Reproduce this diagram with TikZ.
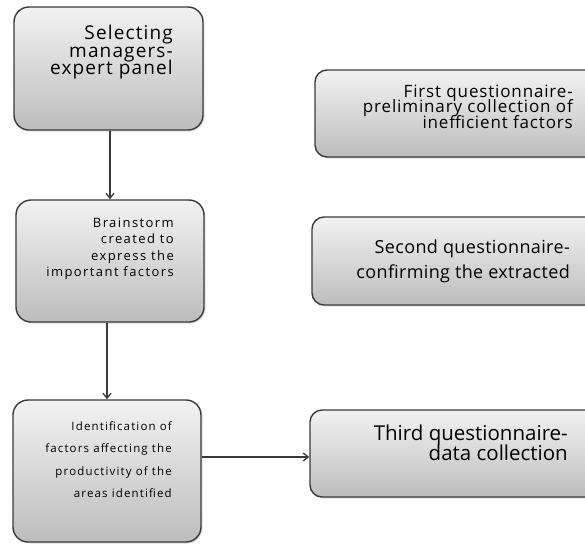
\documentclass[tikz,border=0pt]{standalone}
\usepackage{fontspec}
\setmainfont{Open Sans}
\usetikzlibrary{arrows.meta,shadows}
\definecolor{boxtop}{HTML}{F2F2F2}
\definecolor{boxbot}{HTML}{BDBDBD}
\definecolor{edge}{HTML}{3A3A3A}
\tikzset{
  stepbox/.style={draw=edge, line width=1.4pt, rounded corners=15pt,
    top color=boxtop, bottom color=boxbot, inner sep=0pt,
    drop shadow={opacity=0.25, shadow xshift=1.5pt, shadow yshift=-1.5pt}},
  qbox/.style={stepbox, rounded corners=12pt},
  txt/.style={anchor=north east, inner sep=0pt, align=right, text=black},
  arr/.style={draw=edge, line width=1.3pt, -{Straight Barb[length=5pt,width=8pt]}}
}
\newcommand{\firstrule}[1]{\rule{0pt}{#1}}
\begin{document}
\begin{tikzpicture}[x=1pt,y=-1pt]
\useasboundingbox (0,0) rectangle (585,544);
\clip (0,0) rectangle (585,544);
% boxes
\node[stepbox, minimum width=189pt, minimum height=123pt] (b1) at (108.5,68.5) {};
\node[stepbox, minimum width=188pt, minimum height=122pt] (b2) at (110,261) {};
\node[stepbox, minimum width=188pt, minimum height=142pt] (b3) at (107,471) {};
\node[qbox, minimum width=285pt, minimum height=87pt] (q1) at (457.5,113.5) {};
\node[qbox, minimum width=288pt, minimum height=88pt] (q2) at (456,261) {};
\node[qbox, minimum width=290pt, minimum height=87pt] (q3) at (455,453.5) {};
% texts
\node[txt, font={\fontsize{19}{17.5}\selectfont\addfontfeature{LetterSpace=6}\lineskiplimit=-100pt}] (t1) at (173,19.5)
  {\firstrule{20pt}Selecting\\managers-\\expert panel};
\node[txt, font={\fontsize{13}{16.5}\selectfont\addfontfeature{LetterSpace=11}\lineskiplimit=-100pt}] (t2) at (174,207)
  {\firstrule{20pt}Brainstorm\\created to\\express the\\important factors};
\node[txt, font={\fontsize{11.5}{22.5}\selectfont\addfontfeature{LetterSpace=10}\lineskiplimit=-100pt}] (t3) at (172,410)
  {\firstrule{20pt}Identification of\\factors affecting the\\productivity of the\\areas identified};
\node[txt, font={\fontsize{17}{15.7}\selectfont\addfontfeature{LetterSpace=5}\lineskiplimit=-100pt}] (t4) at (573,77)
  {\firstrule{20pt}First questionnaire-\\preliminary collection of\\inefficient factors};
\node[txt, font={\fontsize{18}{25}\selectfont\addfontfeature{LetterSpace=2}\lineskiplimit=-100pt}] (t5) at (570,233)
  {\firstrule{20pt}Second questionnaire-\\confirming the extracted};
\node[txt, font={\fontsize{20.5}{20}\selectfont\lineskiplimit=-100pt}] (t6) at (568,420)
  {\firstrule{20pt}Third questionnaire-\\data collection};
% connectors
\coordinate (a1) at ([xshift=1.5pt]b1.south);
\draw[arr] (a1) -- (a1 |- b2.north);
\draw[arr] (b3.north |- b2.south) -- (b3.north);
\coordinate (a3) at ([yshift=14pt]b3.east);
\draw[arr] (a3) -- (a3 -| q3.west);
\end{tikzpicture}
\end{document}
